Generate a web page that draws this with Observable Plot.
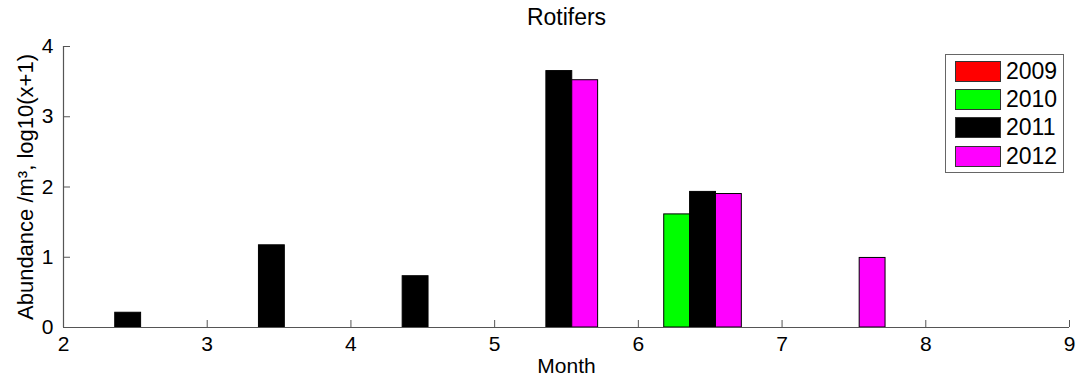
<!DOCTYPE html>
<html>
<head>
<meta charset="utf-8">
<script src="https://cdn.jsdelivr.net/npm/d3@7"></script>
<script src="https://cdn.jsdelivr.net/npm/@observablehq/plot@0.6"></script>
<style>
  html, body { margin: 0; padding: 0; background: #fff; }
  #wrap { position: relative; width: 1076px; height: 381px; font-family: "Liberation Sans", Arial, sans-serif; }
  #legend { position: absolute; left: 945px; top: 54px; width: 119px; height: 119px; border: 1px solid #666; background: #fff; box-sizing: border-box; }
  .item { position: absolute; left: 9px; height: 21px; display: flex; align-items: center; }
  .sw { width: 46px; height: 21px; border: 1px solid #333; box-sizing: border-box; }
  .lab { margin-left: 5px; font-size: 23px; color: #000; }
</style>
</head>
<body>
<div id="wrap"></div>
<script>
// ---- data ----
const months = [2, 3, 4, 5, 6, 7, 8];
const years = ["2009", "2010", "2011", "2012"];
const colors = ["#ff0000", "#00ff00", "#000000", "#ff00ff"];
const values2009 = [0, 0, 0, 0, 0, 0, 0];
const values2010 = [0, 0, 0, 0, 1.61, 0, 0];
const values2011 = [0.21, 1.17, 0.73, 3.65, 1.93, 0, 0];
const values2012 = [0, 0, 0, 3.52, 1.90, 0.99, 0];
const xTicks = [2, 3, 4, 5, 6, 7, 8, 9];
const yTicks = [0, 1, 2, 3, 4];
const title = "Rotifers";
const xLabel = "Month";
const yLabel = "Abundance /m\u00B3, log10(x+1)";

// ---- build table ----
const series = [values2009, values2010, values2011, values2012];
const groupWidth = 0.72;
const barW = groupWidth / years.length;
const rows = [];
series.forEach((vals, yi) => {
  vals.forEach((v, mi) => {
    if (v > 0) rows.push({month: months[mi], year: years[yi], yi, value: v});
  });
});

const font = '"Liberation Sans", Arial, sans-serif';
const axisColor = "#555";

const chart = Plot.plot({
  width: 1076,
  height: 381,
  marginLeft: 63,
  marginRight: 7,
  marginTop: 46,
  marginBottom: 54,
  style: {fontFamily: font, background: "#fff", color: "#000"},
  x: {domain: [2, 9], ticks: xTicks},
  y: {domain: [0, 4], ticks: yTicks},
  color: {domain: years, range: colors},
  marks: [
    Plot.rectY(rows, {
      x1: d => d.month + d.yi * barW,
      x2: d => d.month + (d.yi + 1) * barW,
      y1: 0,
      y2: "value",
      fill: "year",
      stroke: "#000",
      strokeWidth: 1
    }),
    Plot.ruleY([0], {stroke: axisColor, strokeWidth: 1.2}),
    Plot.ruleX([2], {stroke: axisColor, strokeWidth: 1.2}),
    Plot.axisX({ticks: xTicks, tickSize: -7, tickPadding: 16, fontSize: 21, label: null, stroke: axisColor, color: "#000", tickFormat: d => String(d)}),
    Plot.axisY({ticks: yTicks, tickSize: -7, tickPadding: 17, fontSize: 21, label: null, stroke: axisColor, color: "#000", tickFormat: d => String(d)}),
    Plot.text([title], {frameAnchor: "top", lineAnchor: "middle", textAnchor: "middle", dy: -29, fontSize: 23, fill: "#000", fontFamily: font}),
    Plot.text([xLabel], {frameAnchor: "bottom", lineAnchor: "middle", textAnchor: "middle", dy: 39, fontSize: 21, fill: "#000", fontFamily: font}),
    Plot.text([yLabel], {frameAnchor: "left", lineAnchor: "middle", textAnchor: "middle", dx: -38, rotate: -90, fontSize: 22, fill: "#000", fontFamily: font})
  ]
});

const wrap = document.getElementById("wrap");
wrap.appendChild(chart);

// legend
const legend = document.createElement("div");
legend.id = "legend";
const tops = [6, 34, 62, 91];
years.forEach((y, i) => {
  const it = document.createElement("div");
  it.className = "item";
  it.style.top = tops[i] + "px";
  const sw = document.createElement("div");
  sw.className = "sw";
  sw.style.background = colors[i];
  const lab = document.createElement("span");
  lab.className = "lab";
  lab.textContent = y;
  it.appendChild(sw);
  it.appendChild(lab);
  legend.appendChild(it);
});
wrap.appendChild(legend);
</script>
</body>
</html>
